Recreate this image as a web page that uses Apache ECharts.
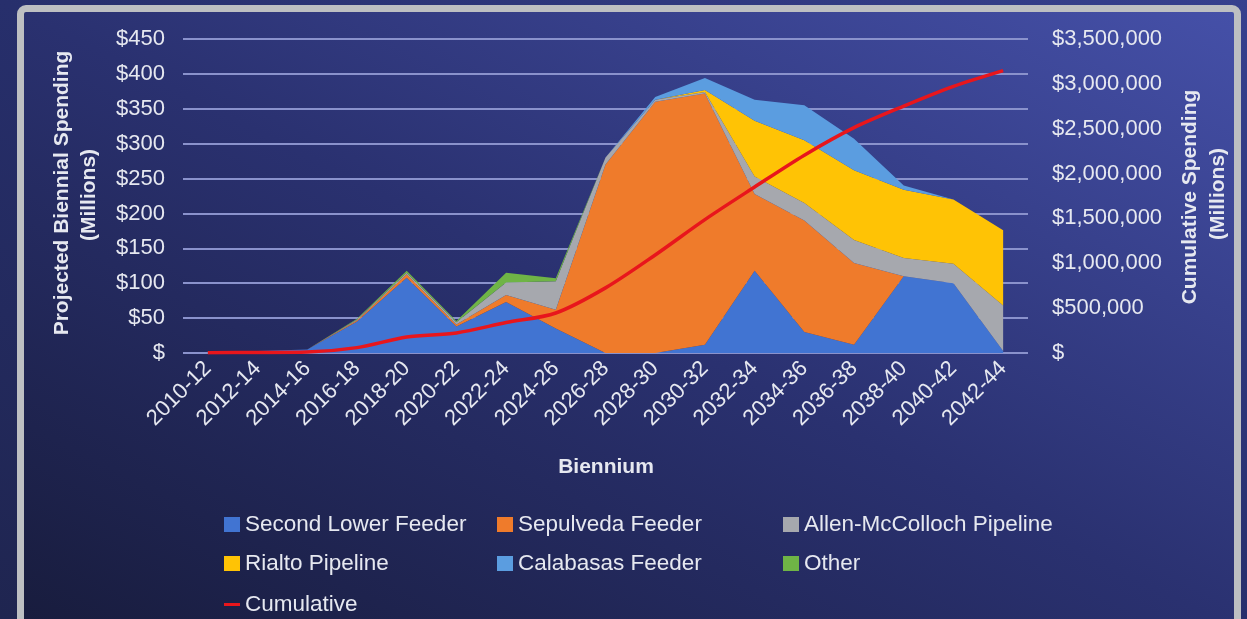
<!DOCTYPE html>
<html>
<head>
<meta charset="utf-8">
<script src="https://cdn.jsdelivr.net/npm/echarts@6/dist/echarts.min.js"></script>
<style>
html,body{margin:0;padding:0;width:1247px;height:619px;overflow:hidden;}
body{background:linear-gradient(to top right,#1f2550 0%,#272f6c 50%,#36408e 100%);}
#frame{position:absolute;left:17px;top:5px;width:1224px;height:630px;box-sizing:border-box;border:7px solid #bdbfc2;border-radius:9px;
background:linear-gradient(to top right,#181c3d 0%,#2a3170 50%,#4550a8 100%);}
#chart{position:absolute;left:0;top:0;width:1247px;height:619px;}
</style>
</head>
<body>
<div id="frame"></div>
<div id="chart"></div>
<script>
const categories = ['2010-12','2012-14','2014-16','2016-18','2018-20','2020-22','2022-24','2024-26','2026-28','2028-30','2030-32','2032-34','2034-36','2036-38','2038-40','2040-42','2042-44'];
const secondLowerFeeder = [2, 3, 5, 45, 108, 38, 73, 35, 0, 0, 12, 118, 30, 12, 110, 100, 3];
const sepulvedaFeeder   = [0, 0, 0, 2, 5, 3, 10, 27, 270, 360, 360, 110, 160, 117, 0, 0, 0];
const allenMcColloch    = [0, 0, 0, 1, 2, 3, 18, 41, 10, 3, 2, 25, 25, 33, 26, 28, 65];
const rialtoPipeline    = [0, 0, 0, 0, 0, 0, 0, 0, 0, 0, 3, 80, 90, 100, 98, 92, 108];
const calabasasFeeder   = [0, 0, 0, 0, 0, 0, 0, 0, 0, 4, 17, 30, 50, 45, 6, 0, 0];
const other             = [1, 0, 0, 1, 3, 2, 14, 4, 0, 0, 0, 0, 0, 0, 0, 0, 0];
const cumulative = [3000, 6000, 11000, 60000, 178000, 224000, 339000, 446000, 726000, 1093000, 1487000, 1850000, 2205000, 2512000, 2752000, 2972000, 3148000];
const leftTicks = [0, 50, 100, 150, 200, 250, 300, 350, 400, 450];
const rightTicks = [0, 500000, 1000000, 1500000, 2000000, 2500000, 3000000, 3500000];

const FONT = 'Liberation Sans';
const TXT = '#e6e8f0';

const areaDefs = [
  ['Second Lower Feeder', secondLowerFeeder, '#4174d2'],
  ['Sepulveda Feeder', sepulvedaFeeder, '#ef7b2b'],
  ['Allen-McColloch Pipeline', allenMcColloch, '#a6a8ae'],
  ['Rialto Pipeline', rialtoPipeline, '#ffc305'],
  ['Calabasas Feeder', calabasasFeeder, '#5b9de0'],
  ['Other', other, '#6fb446']
];

const series = areaDefs.map(([name, data, color]) => ({
  name, type: 'line', stack: 'total', data,
  symbol: 'none', showSymbol: false,
  lineStyle: { width: 0, color },
  itemStyle: { color },
  areaStyle: { color, opacity: 1 },
  emphasis: { disabled: true }
}));
series.push({
  name: 'Cumulative', type: 'line', yAxisIndex: 1, data: cumulative,
  symbol: 'none', showSymbol: false, smooth: 0.3,
  lineStyle: { width: 3.5, color: '#e8161c' },
  itemStyle: { color: '#e8161c' }, z: 10
});

function leg(name, left, top, line) {
  return {
    data: [name], left, top, icon: 'rect',
    itemWidth: 16, itemHeight: line ? 3 : 15, itemGap: 0,
    selectedMode: false,
    textStyle: { color: TXT, fontFamily: FONT, fontSize: 22.5 }
  };
}
const col = [219, 492, 778];
const row = [508, 547, 587];

const fmtLeft = v => v === 0 ? '$' : '$' + v;
const fmtRight = v => v === 0 ? '$' : '$' + v.toLocaleString('en-US');

const chart = echarts.init(document.getElementById('chart'));
chart.setOption({
  backgroundColor: 'transparent',
  animation: false,
  grid: { left: 183, right: 219, top: 39, bottom: 266, containLabel: false },
  legend: [
    leg('Second Lower Feeder', col[0], row[0]),
    leg('Sepulveda Feeder', col[1], row[0]),
    leg('Allen-McColloch Pipeline', col[2], row[0]),
    leg('Rialto Pipeline', col[0], row[1]),
    leg('Calabasas Feeder', col[1], row[1]),
    leg('Other', col[2], row[1]),
    leg('Cumulative', col[0], row[2] + 1, true)
  ],
  xAxis: {
    type: 'category', data: categories, boundaryGap: true,
    axisLine: { show: false }, axisTick: { show: false },
    axisLabel: { interval: 0, rotate: 45, margin: 12, color: TXT, fontFamily: FONT, fontSize: 22 }
  },
  yAxis: [
    {
      type: 'value', min: leftTicks[0], max: leftTicks[leftTicks.length - 1], interval: 50,
      axisLine: { show: false }, axisTick: { show: false },
      splitLine: { show: true, lineStyle: { color: '#8a92cc', width: 2 } },
      axisLabel: { formatter: fmtLeft, margin: 18, color: TXT, fontFamily: FONT, fontSize: 22 }
    },
    {
      type: 'value', min: rightTicks[0], max: rightTicks[rightTicks.length - 1], interval: 500000,
      axisLine: { show: false }, axisTick: { show: false },
      splitLine: { show: false },
      axisLabel: { formatter: fmtRight, margin: 24, color: TXT, fontFamily: FONT, fontSize: 22 }
    }
  ],
  graphic: [
    { type: 'text', x: 62, y: 193, rotation: Math.PI / 2,
      style: { text: 'Projected Biennial Spending', fill: TXT, font: 'bold 21px "Liberation Sans"', textAlign: 'center', textVerticalAlign: 'middle' } },
    { type: 'text', x: 89, y: 195, rotation: Math.PI / 2,
      style: { text: '(Millions)', fill: TXT, font: 'bold 21px "Liberation Sans"', textAlign: 'center', textVerticalAlign: 'middle' } },
    { type: 'text', x: 1190, y: 197, rotation: Math.PI / 2,
      style: { text: 'Cumulative Spending', fill: TXT, font: 'bold 21px "Liberation Sans"', textAlign: 'center', textVerticalAlign: 'middle' } },
    { type: 'text', x: 1218, y: 194, rotation: Math.PI / 2,
      style: { text: '(Millions)', fill: TXT, font: 'bold 21px "Liberation Sans"', textAlign: 'center', textVerticalAlign: 'middle' } },
    { type: 'text', x: 606, y: 467,
      style: { text: 'Biennium', fill: TXT, font: 'bold 21px "Liberation Sans"', textAlign: 'center', textVerticalAlign: 'middle' } }
  ],
  series
});
</script>
</body>
</html>
